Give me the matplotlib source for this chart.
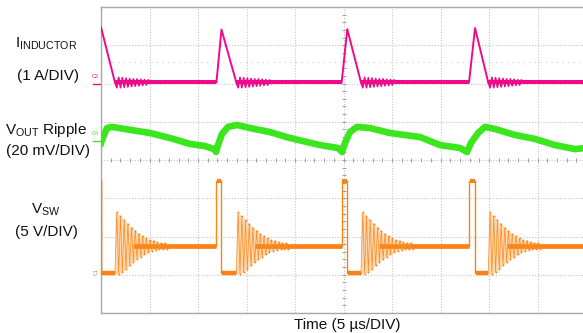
import numpy as np
import matplotlib
matplotlib.use('Agg')
import matplotlib.pyplot as plt

plt.rcParams['font.family'] = ['Liberation Sans', 'DejaVu Sans']
plt.rcParams['mathtext.fontset'] = 'custom'
plt.rcParams['mathtext.rm'] = 'Liberation Sans'
plt.rcParams['mathtext.it'] = 'Liberation Sans:italic'

# ---------------- data read from the scope capture ----------------
# switching events (µs)
t_rise = [None, 11.90, 24.81, 37.94]   # high-side switch turns on
t_peak = [0.00, 12.42, 25.39, 38.56]   # switch turns off (inductor peak)
t_zero = [1.44, 13.95, 26.80, 39.92]   # inductor current reaches zero
i_peak = [1.44, 1.38, 1.39, 1.42]      # A

# inductor current ringing around zero after each discharge (A, half-cycle samples)
il_ring = [-0.14, 0.13, -0.14, 0.12, -0.13, 0.11, -0.12, 0.10, -0.11, 0.09,
           -0.10, 0.09, -0.09, 0.08, -0.08, 0.07, -0.07, 0.06]

# switch node (V)
vsw_high = 11.9
vsw_low = -0.13
vsw_settle = 3.4
vsw_ring = [7.8, -0.2, 7.3, 0.0, 6.8, 0.4, 6.3, 0.9, 5.8, 1.3, 5.4, 1.7,
            5.0, 2.0, 4.7, 2.3, 4.4, 2.6, 4.2, 2.8, 4.1, 2.9, 3.9, 3.0,
            3.8, 3.0, 3.8, 3.0]
ring_half_period = 0.19  # µs

# output ripple (mV)
vout_t = [0.0, 0.21, 0.62, 1.13, 2.47, 5.05, 7.11, 9.18, 10.72, 11.65, 11.86,
          12.06, 12.47, 13.09, 14.02, 15.36, 17.42, 19.48, 22.58, 24.43, 24.85,
          25.15, 25.67, 26.39, 27.73, 29.79, 32.89, 34.95, 37.01, 37.73, 38.14,
          38.87, 39.59, 40.62, 42.68, 44.74, 46.80, 48.87, 50.0]
vout_mv = [-2.6, 0.5, 5.2, 5.8, 4.7, 2.6, 0.0, -3.1, -4.2, -5.8, -7.3,
           -3.7, 2.1, 5.8, 6.8, 5.2, 3.1, 0.0, -3.7, -5.2, -7.3,
           -2.6, 3.1, 5.8, 5.2, 2.6, 0.5, -3.7, -5.2, -7.3, -2.6,
           2.6, 5.8, 4.7, 1.6, -0.5, -3.7, -5.8, -5.2]

# channel scales / positions on the 8-division screen
il_zero_div, il_scale = 6.03, 1.0       # 1 A/DIV
vo_zero_div, vo_scale = 4.575, 20.0     # 20 mV/DIV
vsw_zero_div, vsw_scale = 1.072, 5.0    # 5 V/DIV
T_END = 50.0

PINK = '#EE0A8A'
GREEN = '#3CE61E'
ORANGE = '#FA8214'
RING = '#F98F2A'
PALE = '#FDDAB4'

W, H = 583, 333
fig = plt.figure(figsize=(W / 100, H / 100), dpi=100)
L, R, TOP, BOT = 101, 586, 7, 313
ax = fig.add_axes([L / W, 1 - BOT / H, (R - L) / W, (BOT - TOP) / H])
ax.set_xlim(0, T_END)
ax.set_ylim(0, 8)

# grid
ax.set_xticks(np.arange(0, 50.1, 5))
ax.set_yticks(np.arange(0, 8.1, 1))
ax.grid(True, color='#c4c4c4', linestyle=(0, (1, 1.5)), linewidth=0.8)
ax.tick_params(length=0, labelbottom=False, labelleft=False)
for s in ax.spines.values():
    s.set_color('#a8a8a8')
    s.set_linewidth(1.0)
ax.set_axisbelow(True)
# centre-line minor ticks
mx = np.arange(0, 50.1, 1.0)
ax.plot(mx, np.full_like(mx, 4.0), ls='none', marker='|', ms=3, mew=0.7, color='#a0a0a0', zorder=1)
my = np.arange(0, 8.01, 0.2)
ax.plot(np.full_like(my, 25.0), my, ls='none', marker='_', ms=3, mew=0.7, color='#a0a0a0', zorder=1)
ax.axhline(6.56, color='#cfcfcf', ls=(0, (1, 4)), lw=0.8, zorder=1)


def il(v):
    return il_zero_div + np.asarray(v, float) / il_scale


def vo(v):
    return vo_zero_div + np.asarray(v, float) / vo_scale


def vs(v):
    return vsw_zero_div + np.asarray(v, float) / vsw_scale


n = len(t_peak)
for k in range(n):
    t_next = t_rise[k + 1] if k + 1 < n else T_END
    # ----- inductor current -----
    if t_rise[k] is not None:
        ax.plot([t_rise[k], t_peak[k], t_zero[k]], il([0, i_peak[k], 0]), color=PINK, lw=1.4, zorder=5)
    else:
        ax.plot([t_peak[k], t_zero[k]], il([i_peak[k], 0]), color=PINK, lw=1.4, zorder=5)
    tr = t_zero[k] + ring_half_period * (np.arange(len(il_ring)) + 1)
    ax.plot(np.r_[t_zero[k], tr], il(np.r_[0, il_ring]), color=PINK, lw=1.2, zorder=5)
    ax.plot([t_zero[k], t_next], il([0, 0]), color=PINK, lw=2.9, zorder=4, solid_capstyle='butt')

    # ----- switch node -----
    if t_rise[k] is not None:
        ax.plot([t_rise[k], t_rise[k], t_peak[k]], vs([vsw_settle, vsw_high, vsw_high]), color=ORANGE, lw=1.0, zorder=5)
        ax.plot([t_rise[k] + 0.05, t_peak[k]], vs([vsw_high, vsw_high]), color=ORANGE, lw=3.0, zorder=5, solid_capstyle='butt')
    else:
        ax.plot([t_peak[k], t_peak[k]], vs([vsw_high, vsw_low]), color=ORANGE, lw=1.0, zorder=5)
    ax.plot([t_peak[k], t_peak[k], t_zero[k]], vs([vsw_high, vsw_low, vsw_low]), color=ORANGE, lw=1.0, zorder=5)
    ax.plot([t_peak[k] + 0.05, t_zero[k]], vs([vsw_low, vsw_low]), color=ORANGE, lw=3.2, zorder=5, solid_capstyle='butt')
    tv = t_zero[k] + ring_half_period * (np.arange(len(vsw_ring)) + 1)
    keep = tv < t_next
    tv2 = np.r_[t_zero[k], tv[keep]]
    vv2 = np.r_[vsw_low, np.array(vsw_ring)[keep]]
    hi = np.array(vsw_ring[0::2])
    lo = np.array(vsw_ring[1::2])
    th = t_zero[k] + ring_half_period * (2 * np.arange(len(hi)) + 1)
    tl = t_zero[k] + ring_half_period * (2 * np.arange(len(lo)) + 2)
    tt = np.linspace(t_zero[k], tl[-1], 200)
    tt = tt[tt < t_next]
    ax.fill_between(tt, vs(np.interp(tt, tl, lo)), vs(np.interp(tt, th, hi)), color=PALE, lw=0, zorder=3)
    ax.plot(tv2, vs(vv2), color=RING, lw=0.55, zorder=5)
    # dark tips of the ringing
    ax.plot(tv[keep], vs(np.array(vsw_ring)[keep]), ls='none', marker='o', ms=1.3, mew=0, color=ORANGE, zorder=5)
    ax.plot([t_zero[k] + ring_half_period * 10, t_next], vs([vsw_settle, vsw_settle]),
            color=ORANGE, lw=3.4, zorder=4, solid_capstyle='butt')

# ----- output ripple -----
ax.plot(vout_t, vo(vout_mv), color=GREEN, lw=4.8, zorder=5, solid_joinstyle='round')

# channel ground markers
ax.text(-0.55, il(0) + 0.1, 'C2', color=PINK, fontsize=4, ha='center', va='bottom', clip_on=False)
ax.plot([-0.8, -0.1], [il(0) - 0.03] * 2, color=PINK, lw=1.0, clip_on=False)
ax.text(-0.55, vo(0) + 0.05, 'C4', color=GREEN, fontsize=4, ha='center', va='bottom', clip_on=False)
ax.plot([-0.8, -0.1], [vo(0) - 0.08] * 2, color=GREEN, lw=1.0, clip_on=False)
ax.text(-0.45, vs(0), 'C1', color=ORANGE, fontsize=4, ha='center', va='center', rotation=90, clip_on=False)


def ftext(x, y, s, **kw):
    fig.text(x / W, 1 - y / H, s, ha='center', va='center', fontsize=11, color='#111111', **kw)


ftext(46, 44, r'I$_{\mathregular{INDUCTOR}}$')
ftext(48, 76, '(1 A/DIV)')
ftext(46, 130, r'V$_{\mathregular{OUT}}$ Ripple')
ftext(48, 151, '(20 mV/DIV)')
ftext(46, 210, r'V$_{\mathregular{SW}}$')
ftext(46, 232, '(5 V/DIV)')
ftext(347, 325, 'Time (5 µs/DIV)')

fig.savefig('out.png', dpi=100)
